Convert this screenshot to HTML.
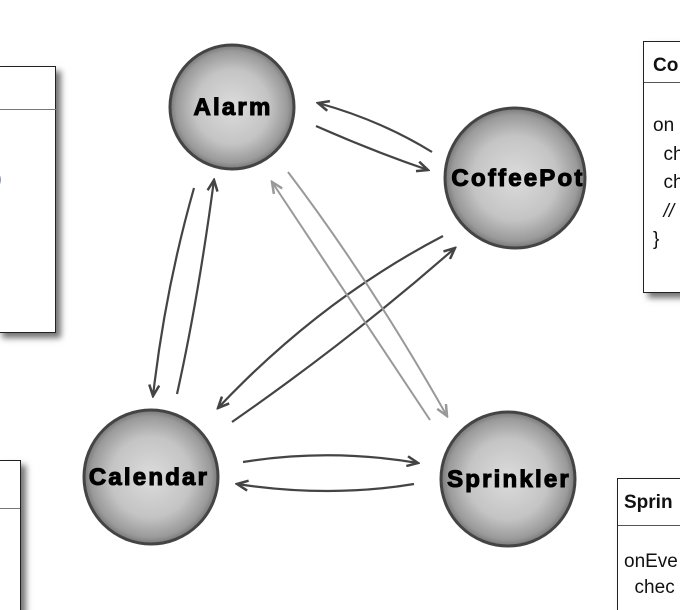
<!DOCTYPE html>
<html><head><meta charset="utf-8"><style>
html,body{margin:0;padding:0;background:#fff;width:680px;height:610px;overflow:hidden;position:relative;font-family:"Liberation Sans",sans-serif}
.box{position:absolute;background:#fff;border:1.5px solid #222;box-shadow:5px 5px 6px rgba(0,0,0,.55)}
.t{position:absolute;font-size:19px;color:#111;white-space:pre}
</style></head><body>
<div class="box" style="left:-3px;top:66px;width:57px;height:265px"></div>
<div style="position:absolute;left:0;top:109px;width:56px;height:1px;background:#777"></div>
<div class="t" style="left:-6px;top:165px;color:#0a2a80;font-size:24px">)</div>
<div class="box" style="left:-3px;top:460px;width:22px;height:160px"></div>
<div style="position:absolute;left:0;top:508px;width:20px;height:1px;background:#777"></div>

<div class="box" style="left:643px;top:41px;width:50px;height:250px"></div>
<div style="position:absolute;left:644px;top:82px;width:40px;height:1px;background:#555"></div>
<div class="t" style="left:653px;top:55px;font-weight:bold">Co</div>
<div class="t" style="left:653px;top:115px">on</div>
<div class="t" style="left:653px;top:144px">  ch</div>
<div class="t" style="left:653px;top:172px">  ch</div>
<div class="t" style="left:653px;top:201px;font-style:italic">  //</div>
<div class="t" style="left:653px;top:229px">}</div>

<div class="box" style="left:617px;top:478px;width:80px;height:150px"></div>
<div style="position:absolute;left:618px;top:525px;width:70px;height:1px;background:#555"></div>
<div class="t" style="left:624px;top:492px;font-weight:bold">Sprin</div>
<div class="t" style="left:624px;top:551px">onEve</div>
<div class="t" style="left:624px;top:577px">  chec</div>

<svg width="680" height="610" style="position:absolute;left:0;top:0">
<defs>
<radialGradient id="g" cx="50%" cy="50%" r="50%">
<stop offset="0" stop-color="#dcdcdc"/><stop offset="0.6" stop-color="#c4c4c4"/><stop offset="0.9" stop-color="#9a9a9a"/><stop offset="1" stop-color="#777"/>
</radialGradient>
<marker id="a" markerWidth="14" markerHeight="12" refX="12" refY="6" orient="auto" markerUnits="userSpaceOnUse">
<path d="M1,1 L12,6 L1,11" fill="none" stroke="#444" stroke-width="2.5"/></marker>
<marker id="b" markerWidth="14" markerHeight="12" refX="12" refY="6" orient="auto" markerUnits="userSpaceOnUse">
<path d="M1,1 L12,6 L1,11" fill="none" stroke="#999" stroke-width="2.5"/></marker>
</defs>
<g fill="url(#g)" stroke="#444" stroke-width="3">
<circle cx="232" cy="107" r="62"/>
<circle cx="515" cy="178" r="70"/>
<circle cx="151" cy="477" r="67"/>
<circle cx="508" cy="479" r="67"/>
</g>
<g fill="none" stroke="#444" stroke-width="2.2">
<path d="M432,152 Q380,120 318,103" marker-end="url(#a)"/>
<path d="M316,126 Q370,150 428,170" marker-end="url(#a)"/>
<path d="M194,188 Q165,290 153,396" marker-end="url(#a)"/>
<path d="M177,394 Q198,300 214,180" marker-end="url(#a)"/>
<path d="M443,236 Q320,300 218,408" marker-end="url(#a)"/>
<path d="M232,422 Q350,340 455,248" marker-end="url(#a)"/>
<path d="M243,462 Q330,448 418,463" marker-end="url(#a)"/>
<path d="M414,484 Q330,498 237,484" marker-end="url(#a)"/>
</g>
<g fill="none" stroke="#999" stroke-width="2">
<path d="M288,172 Q370,280 447,416" marker-end="url(#b)"/>
<path d="M430,420 Q350,300 272,182" marker-end="url(#b)"/>
</g>
<g font-family="Liberation Sans,sans-serif" font-weight="bold" font-size="24" fill="#000" stroke="#000" stroke-width="1.1" letter-spacing="2.2" text-anchor="middle">
<text x="233" y="115">Alarm</text>
<text x="518" y="186">CoffeePot</text>
<text x="149" y="485">Calendar</text>
<text x="509" y="487">Sprinkler</text>
</g>
</svg>
</body></html>
